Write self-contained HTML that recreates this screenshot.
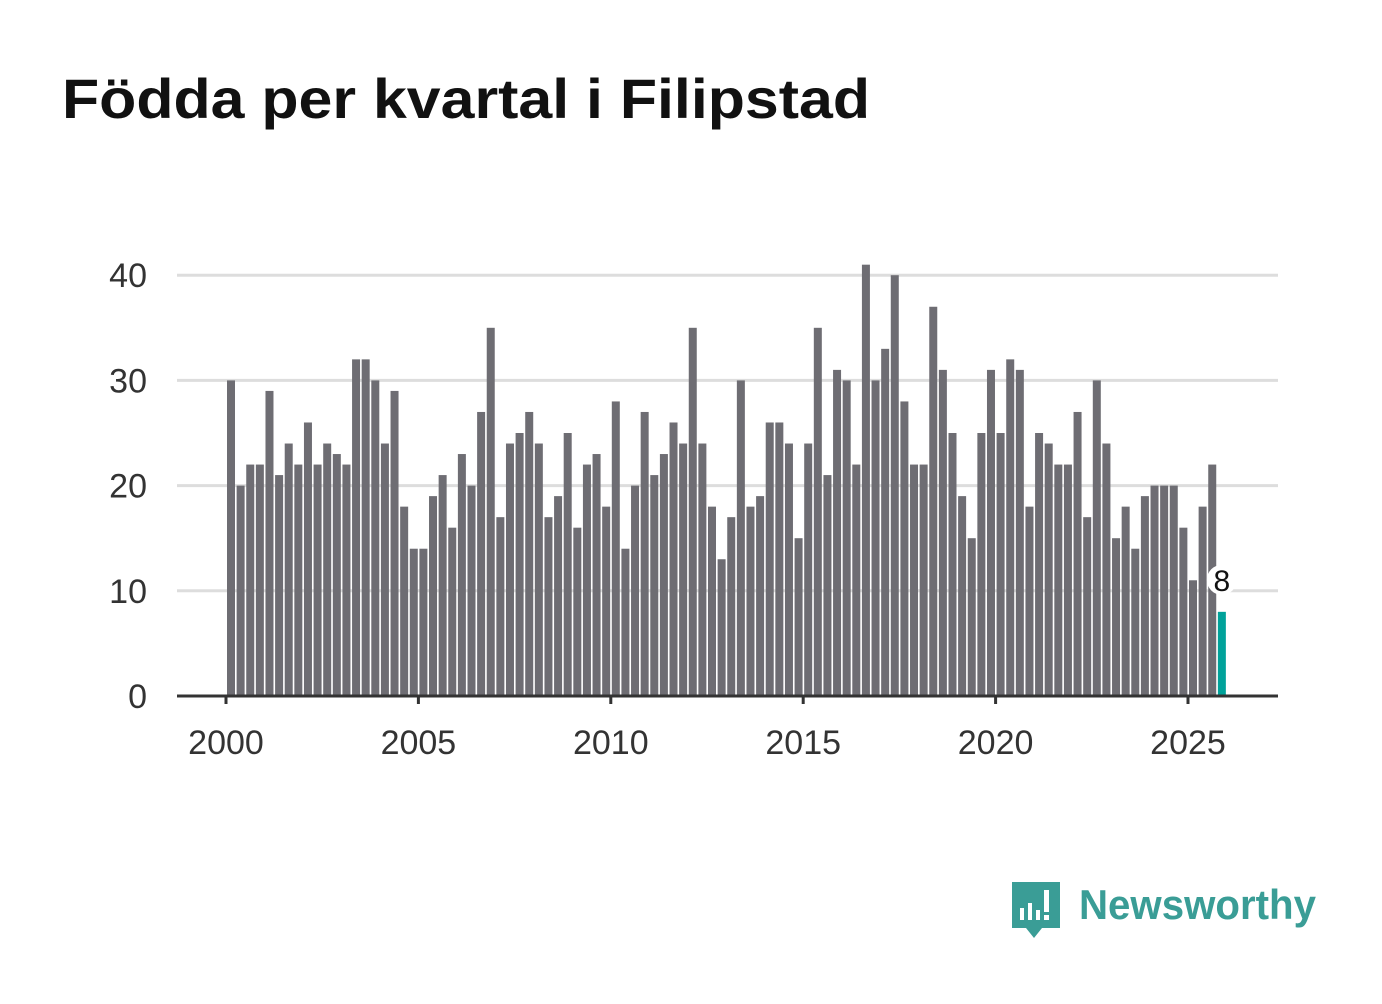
<!DOCTYPE html>
<html><head><meta charset="utf-8"><style>
body{margin:0;background:#fff;width:1382px;height:999px;overflow:hidden;font-family:"Liberation Sans",sans-serif}
</style></head><body>
<svg width="1382" height="999">
<text x="62" y="118" font-size="56" font-weight="bold" fill="#111" textLength="808" lengthAdjust="spacingAndGlyphs">Födda per kvartal i Filipstad</text>
<g id="grid"></g><g id="bars"></g><g id="axis"></g>
<g>
<path d="M1012 882 h48 v46 h-18 l-8 10 l-8 -10 h-14 z" fill="#3a9d96"/>
<rect x="1020" y="908" width="4" height="12" fill="#fff"/><rect x="1028" y="903" width="4" height="17" fill="#fff"/><rect x="1036" y="910" width="4" height="10" fill="#fff"/><rect x="1044" y="890" width="5" height="22" fill="#fff"/><rect x="1044" y="915" width="5" height="5" fill="#fff"/>
<text x="1079" y="919" font-size="42" font-weight="bold" fill="#3a9d96" textLength="237" lengthAdjust="spacingAndGlyphs">Newsworthy</text>
</g>
</svg>
<script>
const years=[2000,2001,2002,2003,2004,2005,2006,2007,2008,2009,2010,2011,2012,2013,2014,2015,2016,2017,2018,2019,2020,2021,2022,2023,2024,2025];
const births=[30,20,22,22,29,21,24,22,26,22,24,23,22,32,32,30,24,29,18,14,14,19,21,16,23,20,27,35,17,24,25,27,24,17,19,25,16,22,23,18,28,14,20,27,21,23,26,24,35,24,18,13,17,30,18,19,26,26,24,15,24,35,21,31,30,22,41,30,33,40,28,22,22,37,31,25,19,15,25,31,25,32,31,18,25,24,22,22,27,17,30,24,15,18,14,19,20,20,20,16,11,18,22,8];
const yTicks=[0,10,20,30,40];
const xTicks=[2000,2005,2010,2015,2020,2025];
const NS='http://www.w3.org/2000/svg';
const x0=226,perYear=38.48,y0=696,perUnit=10.52;
const X=t=>x0+(t-2000)*perYear, Y=v=>y0-v*perUnit;
function mk(tag,attrs,parent){const e=document.createElementNS(NS,tag);for(const k in attrs)e.setAttribute(k,attrs[k]);parent.appendChild(e);return e;}
const grid=document.getElementById('grid'),bars=document.getElementById('bars'),axis=document.getElementById('axis');
yTicks.forEach(v=>{
 if(v>0){const l=mk('line',{x1:177,x2:1278,y1:Y(v),y2:Y(v),stroke:'#dddddd','stroke-width':3},grid);
 
 }
 const t=mk('text',{x:147,y:Y(v)+12,'text-anchor':'end','font-size':34,fill:'#333'},grid);t.textContent=v;
 
 
});
births.forEach((v,i)=>{
 const r=mk('rect',{x:X(2000+i/4)+1,y:Y(v),width:8,height:v*perUnit,fill:i===births.length-1?'#00a29a':'#6e6d73'},bars);
 
 
});
const li=births.length-1,lx=X(2000+li/4)+5,ly=Y(births[li])-32;
const c=mk('circle',{cx:lx,cy:ly,r:15,fill:'#fff'},bars);


const lt=mk('text',{x:lx,y:ly+11,'text-anchor':'middle','font-size':30,fill:'#111'},bars);lt.textContent=births[li];


const base=mk('line',{x1:177,x2:1278,y1:y0,y2:y0,stroke:'#333','stroke-width':3},axis);


xTicks.forEach(yr=>{
 const tk=mk('line',{x1:X(yr),x2:X(yr),y1:y0,y2:y0+8,stroke:'#333','stroke-width':3},axis);
 
 
 const t=mk('text',{x:X(yr),y:754,'text-anchor':'middle','font-size':34,fill:'#333'},axis);t.textContent=yr;
 
 
});
</script>
</body></html>
